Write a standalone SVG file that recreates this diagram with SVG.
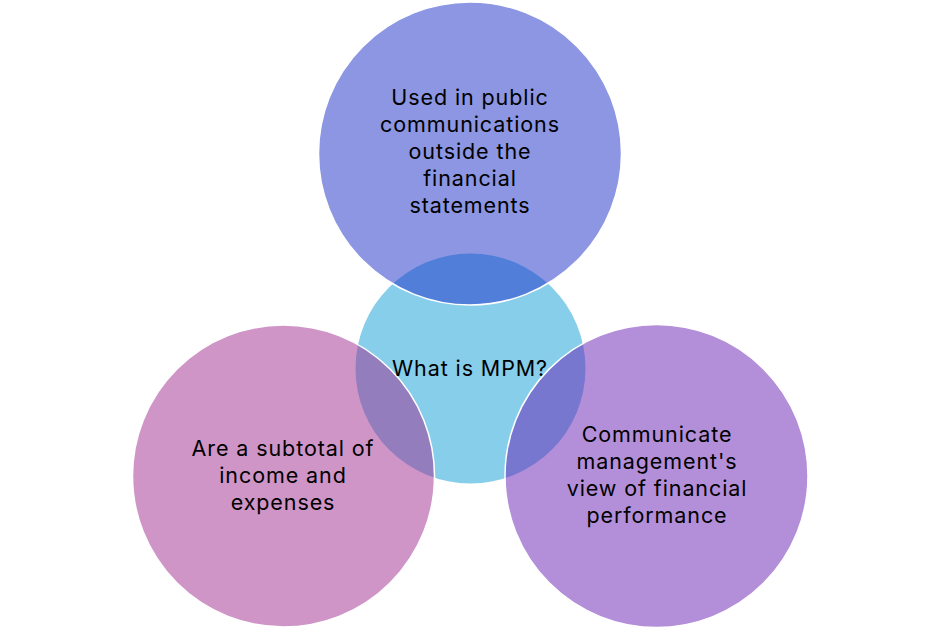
<svg xmlns="http://www.w3.org/2000/svg" width="941" height="629" viewBox="0 0 941 629">
<style>
.c{stroke:#fff;stroke-width:1.5;fill-opacity:0.5}
text{font-family:Inter,"Open Sans","Liberation Sans",sans-serif;font-size:21.5px;fill:#000;text-anchor:middle;letter-spacing:0.9px}
</style>
<rect width="941" height="629" fill="#fff"/>
<g id="center"><circle cx="470.5" cy="368.5" r="115" fill="#87CEEB"/></g>
<g id="top"><circle class="c" cx="470" cy="153.5" r="151.5" fill="#192DC7"/></g>
<g id="left"><circle class="c" cx="283.5" cy="476" r="151" fill="#9F2B8F"/></g>
<g id="right"><circle class="c" cx="656.5" cy="476" r="151.5" fill="#691FB3"/></g>
<g id="connectors"></g>
<g id="labels">
<text x="470" y="376">What is MPM?</text>
<text x="470" y="105">Used in public</text>
<text x="470" y="132">communications</text>
<text x="470" y="159">outside the</text>
<text x="470" y="186">financial</text>
<text x="470" y="213">statements</text>
<text x="283" y="456">Are a subtotal of</text>
<text x="283" y="483">income and</text>
<text x="283" y="510">expenses</text>
<text x="657" y="442">Communicate</text>
<text x="657" y="469">management's</text>
<text x="657" y="496">view of financial</text>
<text x="657" y="523">performance</text>
</g>
</svg>
